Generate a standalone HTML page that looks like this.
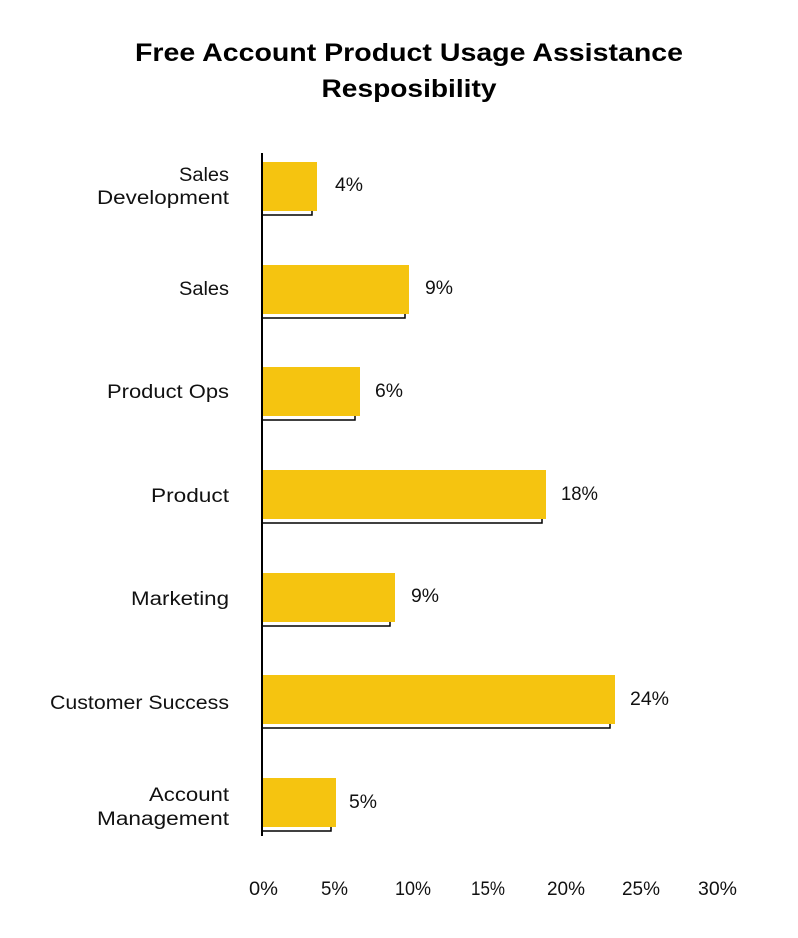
<!DOCTYPE html>
<html><head><meta charset="utf-8"><style>
body{margin:0;background:#fff;width:798px;height:933px;overflow:hidden}
</style></head><body>
<svg width="798" height="933" xmlns="http://www.w3.org/2000/svg" font-family="Liberation Sans, sans-serif">
<text x="409" y="61" text-anchor="middle" font-size="25" font-weight="bold" fill="#000" textLength="548" lengthAdjust="spacingAndGlyphs">Free Account Product Usage Assistance</text>
<text x="409" y="97" text-anchor="middle" font-size="25" font-weight="bold" fill="#000" textLength="175" lengthAdjust="spacingAndGlyphs">Resposibility</text>
<line x1="262" y1="153" x2="262" y2="836" stroke="#000" stroke-width="2"/>
<g fill="#f5c410" stroke="none">
<rect x="263" y="162" width="54" height="49"/>
<rect x="263" y="265" width="146" height="49"/>
<rect x="263" y="367" width="97" height="49"/>
<rect x="263" y="470" width="283" height="49"/>
<rect x="263" y="573" width="132" height="49"/>
<rect x="263" y="675" width="352" height="49"/>
<rect x="263" y="778" width="73" height="49"/>
</g>
<g fill="none" stroke="#000" stroke-width="1.5">
<polyline points="263,215 312,215 312,211"/>
<polyline points="263,318 405,318 405,314"/>
<polyline points="263,420 355,420 355,416"/>
<polyline points="263,523 542,523 542,519"/>
<polyline points="263,626 390,626 390,622"/>
<polyline points="263,728 610,728 610,724"/>
<polyline points="263,831 331,831 331,827"/>
</g>
<g font-size="19" fill="#111" text-anchor="end" lengthAdjust="spacingAndGlyphs">
<text x="229" y="181" textLength="50" lengthAdjust="spacingAndGlyphs">Sales</text><text x="229" y="204" textLength="132" lengthAdjust="spacingAndGlyphs">Development</text>
<text x="229" y="295" textLength="50" lengthAdjust="spacingAndGlyphs">Sales</text>
<text x="229" y="398" textLength="122" lengthAdjust="spacingAndGlyphs">Product Ops</text>
<text x="229" y="502" textLength="78" lengthAdjust="spacingAndGlyphs">Product</text>
<text x="229" y="605" textLength="98" lengthAdjust="spacingAndGlyphs">Marketing</text>
<text x="229" y="709" textLength="179" lengthAdjust="spacingAndGlyphs">Customer Success</text>
<text x="229" y="801" textLength="80" lengthAdjust="spacingAndGlyphs">Account</text><text x="229" y="825" textLength="132" lengthAdjust="spacingAndGlyphs">Management</text>
</g>
<g font-size="19" fill="#111">
<text x="335" y="191" textLength="28" lengthAdjust="spacingAndGlyphs">4%</text>
<text x="425" y="294" textLength="28" lengthAdjust="spacingAndGlyphs">9%</text>
<text x="375" y="397" textLength="28" lengthAdjust="spacingAndGlyphs">6%</text>
<text x="561" y="500" textLength="37" lengthAdjust="spacingAndGlyphs">18%</text>
<text x="411" y="602" textLength="28" lengthAdjust="spacingAndGlyphs">9%</text>
<text x="630" y="705" textLength="39" lengthAdjust="spacingAndGlyphs">24%</text>
<text x="349" y="808" textLength="28" lengthAdjust="spacingAndGlyphs">5%</text>
</g>
<g font-size="19" fill="#111">
<text x="249" y="895" textLength="29" lengthAdjust="spacingAndGlyphs">0%</text>
<text x="321" y="895" textLength="27" lengthAdjust="spacingAndGlyphs">5%</text>
<text x="395" y="895" textLength="36" lengthAdjust="spacingAndGlyphs">10%</text>
<text x="471" y="895" textLength="34" lengthAdjust="spacingAndGlyphs">15%</text>
<text x="547" y="895" textLength="38" lengthAdjust="spacingAndGlyphs">20%</text>
<text x="622" y="895" textLength="38" lengthAdjust="spacingAndGlyphs">25%</text>
<text x="698" y="895" textLength="39" lengthAdjust="spacingAndGlyphs">30%</text>
</g>
</svg>
</body></html>
